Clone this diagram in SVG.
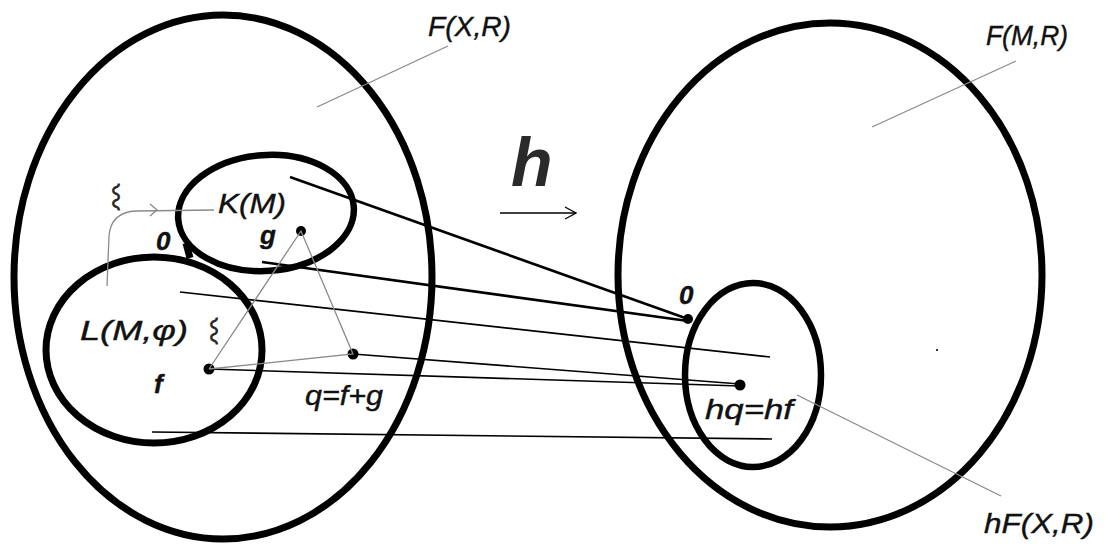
<svg xmlns="http://www.w3.org/2000/svg" width="1108" height="544" viewBox="0 0 1108 544">
<defs>
<style>
.set{fill:none;stroke:#000;stroke-width:7}
.sub{fill:none;stroke:#000;stroke-width:6.5}
.lbl{font-family:"Liberation Sans",Arial,sans-serif;font-style:italic;font-size:28px;fill:#111;stroke:#111;stroke-width:0.4}
.b{font-weight:bold;font-size:26px}
.lead{stroke:#8a8a8a;stroke-width:1.3;fill:none}
.map{stroke:#000;fill:none}
.dot{fill:#000}
.sq{font-family:"Noto Sans CJK JP",sans-serif;font-size:26px;fill:#222;stroke:#222;stroke-width:0.8}
</style>
<marker id="open2" viewBox="0 0 14 14" refX="13" refY="7" markerWidth="14" markerHeight="14" markerUnits="userSpaceOnUse" orient="auto">
<path d="M2,1 L13,7 L2,13" fill="none" stroke="#000" stroke-width="1.2"/>
</marker>
</defs>
<rect width="1108" height="544" fill="#fff"/>

<g id="FXR">
<ellipse class="set" cx="223" cy="277" rx="209" ry="262"/>
<text class="lbl" x="428" y="36" textLength="83" lengthAdjust="spacingAndGlyphs">F(X,R)</text>
<line class="lead" x1="317" y1="107" x2="448" y2="46"/>
</g>

<g id="FMR">
<ellipse class="set" cx="830" cy="275" rx="212" ry="252"/>
<text class="lbl" x="986" y="45" textLength="82" lengthAdjust="spacingAndGlyphs">F(M,R)</text>
<line class="lead" x1="872" y1="127" x2="1016" y2="61"/>
<rect x="936" y="349" width="2" height="2" fill="#333"/>
</g>

<g id="KM">
<ellipse class="sub" cx="266" cy="213" rx="88" ry="58" transform="rotate(-4 266 213)"/>
<text class="lbl" x="218" y="213" font-size="29" textLength="68" lengthAdjust="spacingAndGlyphs">K(M)</text>
<text class="lbl b" x="260" y="244" font-size="24">g</text>
<circle class="dot" cx="301" cy="231" r="5"/>
</g>

<g id="LM">
<ellipse class="set" cx="154" cy="350" rx="108" ry="93"/>
<text class="lbl" x="80" y="340" font-size="29" textLength="108" lengthAdjust="spacingAndGlyphs">L(M,φ)</text>
<text class="lbl b" x="154" y="393">f</text>
<circle class="dot" cx="209" cy="369" r="5.5"/>
<text class="sq" transform="translate(204,318) rotate(90)">〰</text>
</g>

<g id="zero">
<line stroke="#000" stroke-width="7" x1="186" y1="243" x2="190" y2="258"/>
<text class="lbl b" x="156" y="250">0</text>
<text class="sq" transform="translate(106,184) rotate(90)">〰</text>
<path class="lead" d="M107,286 L109,236 Q111,212 136,211 L214,210"/>
<path d="M150,204 L157,210 L150,216" fill="none" stroke="#888" stroke-width="1.3"/>
</g>

<g id="q">
<circle class="dot" cx="353" cy="354" r="5.5"/>
<text class="lbl" x="305" y="405" textLength="78" lengthAdjust="spacingAndGlyphs">q=f+g</text>
</g>

<g id="hFXR">
<ellipse class="sub" cx="753" cy="375" rx="68" ry="92"/>
<text class="lbl b" x="679" y="304">0</text>
<circle class="dot" cx="688" cy="319" r="5"/>
<circle class="dot" cx="740" cy="385" r="5.5"/>
<text class="lbl" x="705" y="419" font-size="30" textLength="88" lengthAdjust="spacingAndGlyphs">hq=hf</text>
<line class="lead" x1="797" y1="395" x2="1001" y2="496"/>
<text class="lbl" x="984" y="533" font-size="30" textLength="110" lengthAdjust="spacingAndGlyphs">hF(X,R)</text>
</g>

<g id="h">
<text x="511" y="186" font-family="'Liberation Sans',Arial,sans-serif" font-style="italic" font-weight="bold" font-size="68" fill="#2a2a2a">h</text>
<line x1="500" y1="213" x2="576" y2="213" stroke="#000" stroke-width="1.3" marker-end="url(#open2)"/>
</g>

<g id="connectors">
<line class="map" stroke-width="2.6" x1="290" y1="177" x2="688" y2="319"/>
<line class="map" stroke-width="2.6" x1="262" y1="262" x2="688" y2="321"/>
<line class="map" stroke-width="1.6" x1="180" y1="292" x2="770" y2="357"/>
<line class="map" stroke-width="1.6" x1="209" y1="369" x2="740" y2="386"/>
<line class="map" stroke-width="1.6" x1="353" y1="354" x2="740" y2="384"/>
<line class="map" stroke-width="1.6" x1="152" y1="432" x2="772" y2="439"/>
<polyline class="lead" points="209,369 301,231 353,354 209,369"/>
</g>
</svg>
